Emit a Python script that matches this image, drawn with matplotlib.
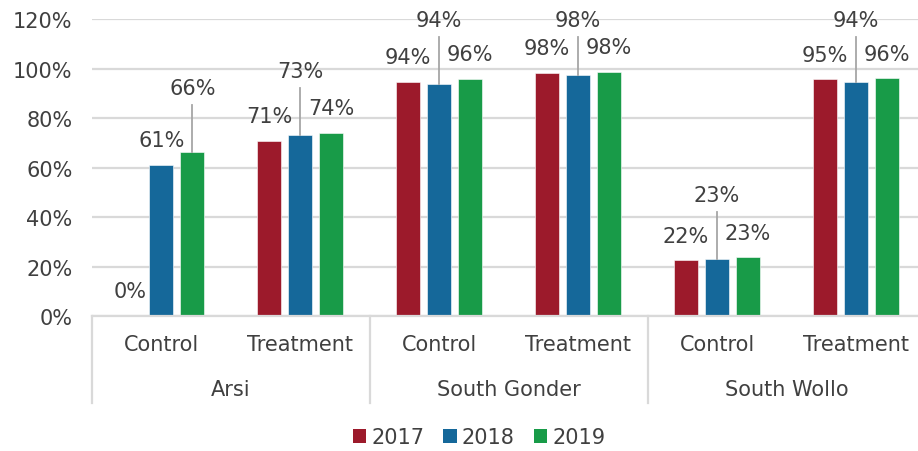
import matplotlib
matplotlib.use("Agg")
import matplotlib.pyplot as plt
from matplotlib.patches import Patch
import numpy as np

regions = ["Arsi", "South Gonder", "South Wollo"]
groups = ["Control", "Treatment"]
years = ["2017", "2018", "2019"]
v2017 = [0.0, 70.8, 94.7, 98.3, 22.5, 95.6]
v2018 = [61.0, 73.0, 93.9, 97.5, 22.9, 94.5]
v2019 = [66.1, 74.1, 95.8, 98.5, 23.7, 96.0]
lab2017 = ["0%", "71%", "94%", "98%", "22%", "95%"]
lab2018 = ["61%", "73%", "94%", "98%", "23%", "94%"]
lab2019 = ["66%", "74%", "96%", "98%", "23%", "96%"]
yticks = [0, 20, 40, 60, 80, 100, 120]

colors = ["#9C1A2B", "#15689A", "#189B48"]
txt = "#404040"
grid_c = "#D9D9D9"
FS = 15

# which labels are raised with a leader line: (series index, category index)
raised = {(2, 0), (1, 1), (1, 2), (1, 3), (1, 4), (1, 5)}

W, H = 918, 452
fig = plt.figure(figsize=(W / 100, H / 100), dpi=100)
left, right_px, top_px, base_px = 92, 918, 20, 317
ax = fig.add_axes([left / W, 1 - base_px / H, (right_px - left) / W, (base_px - top_px) / H])

cat_w = 138.9
ncat = len(regions) * len(groups)
x = np.arange(ncat)
ax.set_xlim(-0.5, -0.5 + (right_px - left) / cat_w)
ax.set_ylim(0, 120)

bw = 24 / cat_w
step = 31 / cat_w
series = [v2017, v2018, v2019]
labels = [lab2017, lab2018, lab2019]
for i, (vals, c) in enumerate(zip(series, colors)):
    xs = x + (i - 1) * step
    ax.bar(xs, vals, width=bw, color=c, edgecolor="white", linewidth=0.4, zorder=3)
    for j, (xx, v) in enumerate(zip(xs, vals)):
        if (i, j) in raised:
            ly = min(v + 26.0, 119.6)
            ax.plot([xx, xx], [ly - 6.8, v], color="#A6A6A6", lw=1.3, zorder=4, clip_on=False)
        else:
            ly = v + 10.0
        ax.text(xx, ly, labels[i][j], ha="center", va="center", fontsize=FS,
                color=txt, clip_on=False, zorder=5)

ax.set_yticks(yticks)
ax.set_yticklabels([f"{t}%" for t in yticks], fontsize=FS, color=txt)
ax.tick_params(axis="y", length=0, pad=14)
ax.tick_params(axis="x", length=0, labelbottom=False)
ax.yaxis.grid(True, color=grid_c, lw=1.6, zorder=0)
ax.set_axisbelow(True)
for s in ["left", "right", "top"]:
    ax.spines[s].set_visible(False)
ax.spines["bottom"].set_color(grid_c)
ax.spines["bottom"].set_linewidth(1.6)
ax.spines["bottom"].set_zorder(4)

trans = ax.get_xaxis_transform()
ax_h = base_px - top_px
def yfrac(py):
    return (base_px - py) / ax_h

# sub-category labels
for j in range(ncat):
    ax.text(x[j], yfrac(345), groups[j % 2], transform=trans, ha="center", va="center",
            fontsize=FS, color=txt, clip_on=False)
# region labels and separators
for r, name in enumerate(regions):
    ax.text(2 * r + 0.5, yfrac(390), name, transform=trans, ha="center", va="center",
            fontsize=FS, color=txt, clip_on=False)
for b in [-0.5, 1.5, 3.5, 5.5]:
    ax.plot([b, b], [0, yfrac(404)], transform=trans, color=grid_c, lw=1.6, clip_on=False)

handles = [Patch(facecolor=c, edgecolor="none") for c in colors]
fig.legend(handles, years, loc="center", bbox_to_anchor=(479 / W, 1 - 438 / H), ncol=3,
           frameon=False, fontsize=FS, handlelength=0.65, handleheight=0.65,
           handletextpad=0.25, columnspacing=0.9, labelcolor=txt)

fig.savefig("out.png", dpi=100)
